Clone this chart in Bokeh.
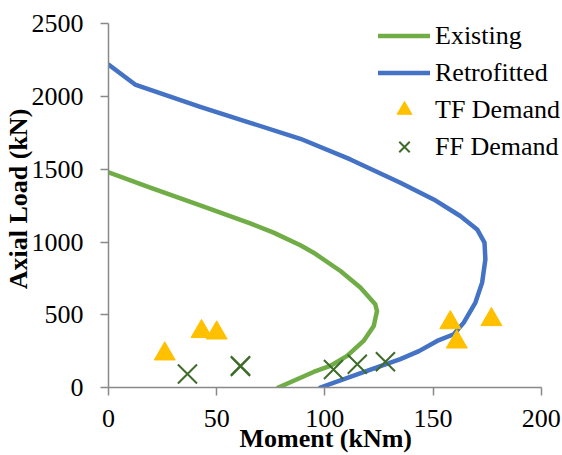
from bokeh.plotting import figure
from bokeh.models import Range1d, Legend, LegendItem, FixedTicker
from bokeh.embed import file_html
from bokeh.resources import INLINE

# Interaction curves (moment in kNm, axial load in kN)
existing_m = [0, 19.3, 42.4, 65.5, 76.3, 88.7, 94.8, 107.2, 116.4, 123.3, 124.1,
              122.6, 117.9, 110.3, 102.5, 94.8, 78.5]
existing_p = [1480, 1374, 1252, 1129, 1065, 978, 927, 801, 687, 572, 526,
              423, 320, 217, 148, 107, 0]

retro_m = [0, 12.3, 42.4, 65.5, 88.7, 111.8, 134.9, 150.3, 162.6, 170.4, 173.8,
           174.2, 172.7, 169.6, 164.2, 159.6, 151.9, 143.5, 134.9, 119.5, 97.9]
retro_p = [2220, 2083, 1930, 1820, 1710, 1568, 1408, 1293, 1179, 1087, 996,
           881, 721, 584, 446, 366, 320, 250, 195, 114, 0]

# Demand points
tf_m = [26, 43, 50, 158, 161, 177]
tf_p = [231, 385, 375, 446, 313, 467]

ff_m = [36.5, 61, 61, 104, 115, 128]
ff_p = [93, 145, 150, 124, 160, 177]

x_ticks = [0, 50, 100, 150, 200]
y_ticks = [0, 500, 1000, 1500, 2000, 2500]

GREEN = "#70AD47"
BLUE = "#4472C4"
GOLD = "#FFC000"
DARK_GREEN = "#3F6B2B"
AXIS_GREY = "#898989"
FONT = "Liberation Serif"
NBSP = "\u00a0"

# The frame runs past 200 kNm and 2500 kN so the legend has room; the
# axes themselves are bounded to the data span.
p = figure(width=562, height=455, output_backend="svg", toolbar_location=None,
           x_range=Range1d(0, 209.85), y_range=Range1d(0, 2592),
           min_border_left=108, min_border_right=0,
           min_border_top=10, min_border_bottom=67)
p.outline_line_color = None
p.xgrid.visible = False
p.ygrid.visible = False
p.background_fill_color = "white"
p.border_fill_color = "white"

r_exist = p.line(existing_m, existing_p, line_color=GREEN, line_width=4.5,
                 line_join="round", line_cap="round")
r_retro = p.line(retro_m, retro_p, line_color=BLUE, line_width=4.5,
                 line_join="round", line_cap="round")
r_tf = p.scatter(tf_m, tf_p, marker="triangle", size=21,
                 fill_color=GOLD, line_color=GOLD)
r_ff = p.scatter(ff_m, ff_p, marker="x", size=27,
                 line_color=DARK_GREEN, line_width=2)

for ax in (p.xaxis[0], p.yaxis[0]):
    ax.axis_line_color = AXIS_GREY
    ax.axis_line_width = 1.5
    ax.major_tick_line_color = AXIS_GREY
    ax.major_tick_line_width = 1.5
    ax.major_tick_in = 0
    ax.major_tick_out = 8
    ax.minor_tick_line_color = None
    ax.major_label_text_font = FONT
    ax.major_label_text_font_size = "26px"
    ax.major_label_text_color = "black"
    ax.axis_label_text_font = FONT
    ax.axis_label_text_font_size = "26px"
    ax.axis_label_text_font_style = "bold"
    ax.axis_label_text_color = "black"

p.xaxis[0].bounds = (0, 200)
p.yaxis[0].bounds = (0, 2500)
p.xaxis[0].ticker = FixedTicker(ticks=x_ticks)
p.yaxis[0].ticker = FixedTicker(ticks=y_ticks)
# trailing no-break spaces centre the title under the 0..200 axis span
p.xaxis[0].axis_label = "Moment (kNm)" + NBSP * 3
p.yaxis[0].axis_label = "Axial Load (kN)"
p.xaxis[0].major_label_standoff = 14
p.xaxis[0].axis_label_standoff = -6
p.yaxis[0].major_label_standoff = 17
p.yaxis[0].axis_label_standoff = -4

legend = Legend(items=[
    LegendItem(label="Existing", renderers=[r_exist]),
    LegendItem(label="Retrofitted", renderers=[r_retro]),
    LegendItem(label="TF Demand", renderers=[r_tf]),
    LegendItem(label="FF Demand", renderers=[r_ff]),
], location=(270, 222))
legend.border_line_color = None
legend.background_fill_alpha = 0
legend.padding = 0
legend.margin = 0
legend.glyph_width = 52
legend.glyph_height = 37
legend.label_height = 37
legend.spacing = 0
legend.label_standoff = 5
legend.label_text_font = FONT
legend.label_text_font_size = "26px"
legend.label_text_color = "black"
p.add_layout(legend)

open("out.html", "w").write(file_html(p, INLINE))
